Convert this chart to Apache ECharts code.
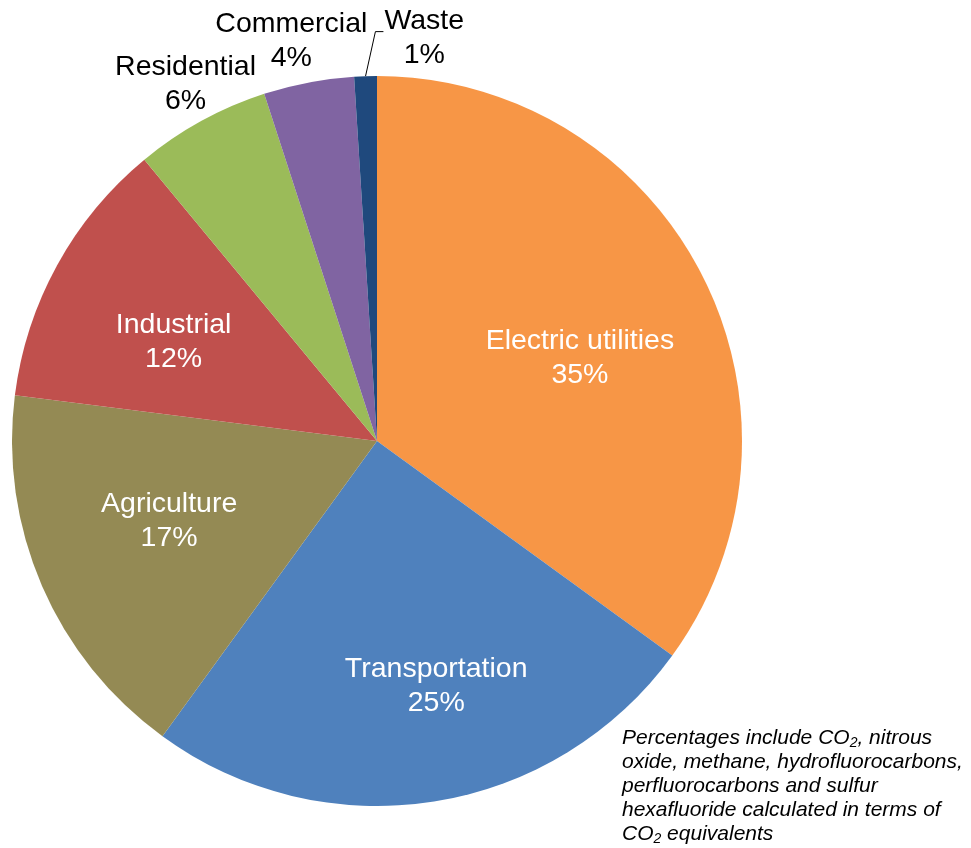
<!DOCTYPE html>
<html>
<head>
<meta charset="utf-8">
<title>Emissions by sector</title>
<script src="https://cdn.jsdelivr.net/npm/echarts@6/dist/echarts.min.js"></script>
<style>
  html, body { margin: 0; padding: 0; background: #fff; }
  #chart { width: 971px; height: 848px; }
</style>
</head>
<body>
<div id="chart"></div>
<script>
// data
const sectors = ['Electric utilities', 'Transportation', 'Agriculture', 'Industrial', 'Residential', 'Commercial', 'Waste'];
const shares = [35, 25, 17, 12, 6, 4, 1];
const sliceColors = ['#F79646', '#4F81BD', '#948A54', '#C0504D', '#9BBB59', '#8064A2', '#1F497D'];

// label placement: distance from centre (share of radius) and small angle nudge (deg)
const labelDist = [0.60, 0.69, 0.61, 0.62, 1.11, 1.12, 1.11];
const labelNudge = [4.9, -4.6, 2.4, -2.8, 0.6, -1.3, 8.5];

const FONT = "'Liberation Sans', Arial, sans-serif";
const CX = 377, CY = 441, R = 365;

const chart = echarts.init(document.getElementById('chart'));

const total = shares.reduce((a, b) => a + b, 0);
const midAngle = shares.map((v, i) => {
  const before = shares.slice(0, i).reduce((a, b) => a + b, 0);
  return (before + v / 2) / total * 360;
});

const option = {
  backgroundColor: '#fff',
  animation: false,
  series: [{
    type: 'pie',
    center: [CX, CY],
    radius: [0, R],
    startAngle: 90,
    clockwise: true,
    avoidLabelOverlap: false,
    itemStyle: { borderWidth: 0 },
    label: {
      formatter: '{b}\n{c}%',
      fontFamily: FONT,
      fontSize: 28.5,
      lineHeight: 34,
      align: 'center'
    },
    labelLine: { show: false },
    data: sectors.map((name, i) => ({
      name: name,
      value: shares[i],
      itemStyle: { color: sliceColors[i] },
      label: i < 4
        ? { position: 'inside', color: '#fff' }
        : { position: 'outside', color: '#000' },
      labelLine: i === 6
        ? { show: true, length: 20, length2: 8, lineStyle: { color: '#000', width: 1 } }
        : { show: false }
    })),
    labelLayout: function (params) {
      const i = params.dataIndex;
      const a = (midAngle[i] + labelNudge[i]) * Math.PI / 180;
      const d = labelDist[i] * R;
      const x = CX + d * Math.sin(a);
      const y = CY - d * Math.cos(a);
      const out = { x: x, y: y, align: 'center', verticalAlign: 'middle' };
      if (i === 6) {
        const m = midAngle[i] * Math.PI / 180;
        const p0 = [CX + R * Math.sin(m), CY - R * Math.cos(m)];
        const w = params.labelRect.width;
        const p2 = [x - w / 2 - 1, y - 7];
        const p1 = [p2[0] - 8, p2[1]];
        out.labelLinePoints = [p0, p1, p2];
      }
      return out;
    }
  }],
  graphic: [{
    type: 'text',
    left: 622,
    top: 726,
    style: {
      text: 'Percentages include CO{sub|2}, nitrous\noxide, methane, hydrofluorocarbons,\nperfluorocarbons and sulfur\nhexafluoride calculated in terms of\nCO{sub|2} equivalents',
      fontFamily: FONT,
      fontStyle: 'italic',
      fontSize: 21,
      lineHeight: 24,
      fill: '#000',
      rich: {
        sub: { fontFamily: FONT, fontSize: 14, fontStyle: 'italic', verticalAlign: 'bottom', lineHeight: 24, fill: '#000' }
      }
    }
  }]
};

chart.setOption(option);
</script>
</body>
</html>
